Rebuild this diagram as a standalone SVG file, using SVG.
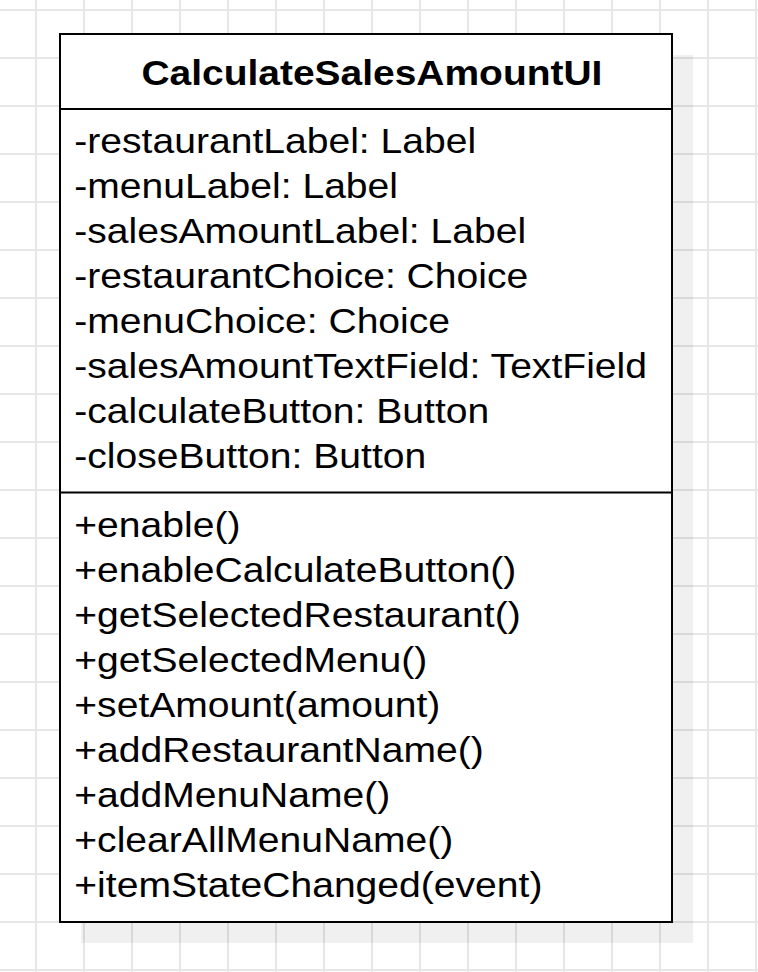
<svg xmlns="http://www.w3.org/2000/svg" width="758" height="972" viewBox="0 0 758 972">
<style>
.grid line{stroke:#e6e6e6;stroke-width:2}
.box{fill:#ffffff;stroke:#000000;stroke-width:2}
.div{stroke:#000000;stroke-width:2}
.t{font-family:"Liberation Sans",Arial,sans-serif;font-size:36px;fill:#000000}
.title{font-weight:bold}
</style>
<rect x="0" y="0" width="758" height="972" fill="#ffffff"/>
<g class="grid">
<line x1="36" y1="0" x2="36" y2="972"/><line x1="84" y1="0" x2="84" y2="972"/><line x1="132" y1="0" x2="132" y2="972"/><line x1="180" y1="0" x2="180" y2="972"/><line x1="228" y1="0" x2="228" y2="972"/><line x1="276" y1="0" x2="276" y2="972"/><line x1="324" y1="0" x2="324" y2="972"/><line x1="372" y1="0" x2="372" y2="972"/><line x1="420" y1="0" x2="420" y2="972"/><line x1="468" y1="0" x2="468" y2="972"/><line x1="516" y1="0" x2="516" y2="972"/><line x1="564" y1="0" x2="564" y2="972"/><line x1="612" y1="0" x2="612" y2="972"/><line x1="660" y1="0" x2="660" y2="972"/><line x1="708" y1="0" x2="708" y2="972"/><line x1="756" y1="0" x2="756" y2="972"/>
<line x1="0" y1="10" x2="758" y2="10"/><line x1="0" y1="58" x2="758" y2="58"/><line x1="0" y1="106" x2="758" y2="106"/><line x1="0" y1="154" x2="758" y2="154"/><line x1="0" y1="202" x2="758" y2="202"/><line x1="0" y1="250" x2="758" y2="250"/><line x1="0" y1="298" x2="758" y2="298"/><line x1="0" y1="346" x2="758" y2="346"/><line x1="0" y1="394" x2="758" y2="394"/><line x1="0" y1="442" x2="758" y2="442"/><line x1="0" y1="490" x2="758" y2="490"/><line x1="0" y1="538" x2="758" y2="538"/><line x1="0" y1="586" x2="758" y2="586"/><line x1="0" y1="634" x2="758" y2="634"/><line x1="0" y1="682" x2="758" y2="682"/><line x1="0" y1="730" x2="758" y2="730"/><line x1="0" y1="778" x2="758" y2="778"/><line x1="0" y1="826" x2="758" y2="826"/><line x1="0" y1="874" x2="758" y2="874"/><line x1="0" y1="922" x2="758" y2="922"/><line x1="0" y1="970" x2="758" y2="970"/>
</g>
<g id="CalculateSalesAmountUI">
<rect x="81" y="55" width="612" height="888" fill="#000000" fill-opacity="0.06"/>
<rect class="box" x="60" y="34" width="612" height="888"/>
<line class="div" x1="60" y1="109" x2="672" y2="109"/>
<line class="div" x1="60" y1="492.5" x2="672" y2="492.5"/>
<g transform="translate(141.4,0) scale(1.082,1)">
<text class="t title" x="0" y="85">CalculateSalesAmountUI</text>
</g>
<g transform="translate(74.3,0) scale(1.086,1)">
<text class="t" x="0" y="153.5">-restaurantLabel: Label</text>
<text class="t" x="0" y="198.5">-menuLabel: Label</text>
<text class="t" x="0" y="243.5">-salesAmountLabel: Label</text>
<text class="t" x="0" y="288.5">-restaurantChoice: Choice</text>
<text class="t" x="0" y="333.5">-menuChoice: Choice</text>
<text class="t" x="0" y="378.5">-salesAmountTextField: TextField</text>
<text class="t" x="0" y="423.5">-calculateButton: Button</text>
<text class="t" x="0" y="468.5">-closeButton: Button</text>
<text class="t" x="0" y="537">+enable()</text>
<text class="t" x="0" y="582">+enableCalculateButton()</text>
<text class="t" x="0" y="627">+getSelectedRestaurant()</text>
<text class="t" x="0" y="672">+getSelectedMenu()</text>
<text class="t" x="0" y="717">+setAmount(amount)</text>
<text class="t" x="0" y="762">+addRestaurantName()</text>
<text class="t" x="0" y="807">+addMenuName()</text>
<text class="t" x="0" y="852">+clearAllMenuName()</text>
<text class="t" x="0" y="897">+itemStateChanged(event)</text>
</g>
</g>
<g id="connectors"></g>
</svg>
